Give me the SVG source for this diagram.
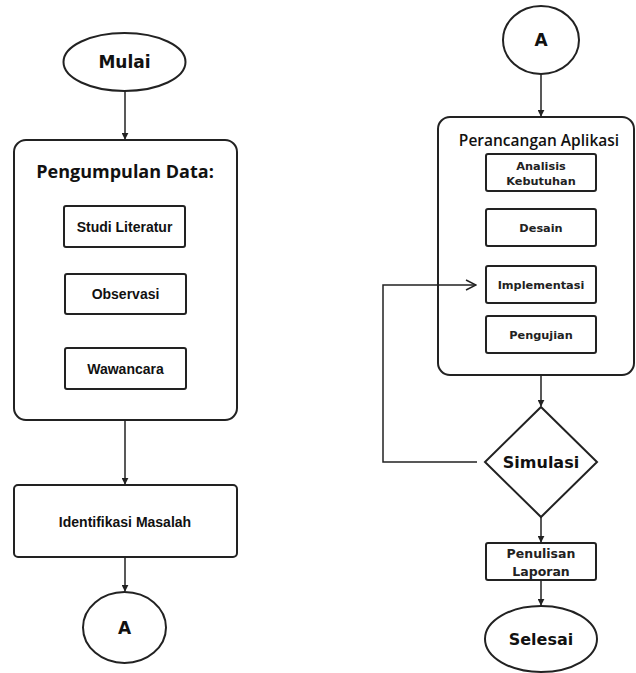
<svg xmlns="http://www.w3.org/2000/svg" width="636" height="673" viewBox="0 0 636 673">
<style>
.s{fill:#fff;stroke:#222;stroke-width:2}
.c{fill:none;stroke:#222;stroke-width:1.5}
.t{font-family:"Liberation Sans",Arial,sans-serif;font-weight:bold;text-anchor:middle;fill:#111}
.b{font-family:"DejaVu Sans",Verdana,sans-serif;font-weight:bold;text-anchor:middle;fill:#111}
.m{font-size:14px}
.h{font-family:"Open Sans","Noto Sans",sans-serif;text-anchor:middle;fill:#111}
.v{font-family:"DejaVu Sans",Verdana,sans-serif;font-size:11.3px;font-weight:bold;text-anchor:middle;fill:#222}
.p{font-size:12.5px}
</style>
<defs>
<marker id="ar" viewBox="0 0 10 10" refX="9" refY="5" markerWidth="7" markerHeight="7" orient="auto" markerUnits="userSpaceOnUse">
<path d="M0,0 L10,5 L0,10 z" fill="#222"/>
</marker>
<marker id="op" viewBox="0 0 12 12" refX="11" refY="6" markerWidth="12" markerHeight="12" orient="auto" markerUnits="userSpaceOnUse">
<path d="M1,1 L11,6 L1,11" fill="none" stroke="#222" stroke-width="1.5"/>
</marker>
</defs>
<g id="mulai">
<ellipse class="s" cx="124.5" cy="62" rx="61" ry="29"/>
<text class="b" x="124.5" y="68" font-size="17">Mulai</text>
</g>
<g id="pengumpulan">
<rect class="s" x="14" y="140" width="223" height="280" rx="12"/>
<text class="h" x="125" y="178" font-size="18" font-weight="bold">Pengumpulan Data:</text>
</g>
<g id="studi">
<rect class="s" x="64" y="206" width="121" height="41" rx="2"/>
<text class="t m" x="124.5" y="231.5">Studi Literatur</text>
</g>
<g id="observasi">
<rect class="s" x="65" y="274" width="121" height="40" rx="2"/>
<text class="t m" x="125.5" y="299">Observasi</text>
</g>
<g id="wawancara">
<rect class="s" x="65" y="348" width="121" height="41" rx="2"/>
<text class="t m" x="125.5" y="374">Wawancara</text>
</g>
<g id="identifikasi">
<rect class="s" x="14" y="485" width="223" height="72" rx="4"/>
<text class="t m" x="125" y="527">Identifikasi Masalah</text>
</g>
<g id="a1">
<ellipse class="s" cx="124.5" cy="627.5" rx="41.5" ry="35.5"/>
<text class="b" x="124.5" y="634" font-size="17">A</text>
</g>
<g id="a2">
<ellipse class="s" cx="541" cy="40" rx="38" ry="34"/>
<text class="b" x="541" y="46" font-size="17">A</text>
</g>
<g id="perancangan">
<rect class="s" x="438" y="117" width="196" height="258" rx="12"/>
<text class="h" x="539" y="146" font-size="15.5" font-weight="600">Perancangan Aplikasi</text>
</g>
<g id="analisis">
<rect class="s" x="486" y="154" width="110" height="37" rx="2"/>
<text class="v" x="541" y="170">Analisis</text>
<text class="v" x="541" y="185">Kebutuhan</text>
</g>
<g id="desain">
<rect class="s" x="486" y="209" width="110" height="37" rx="2"/>
<text class="v" x="541" y="232">Desain</text>
</g>
<g id="implementasi">
<rect class="s" x="486" y="266" width="110" height="37" rx="2"/>
<text class="v" x="541" y="289">Implementasi</text>
</g>
<g id="pengujian">
<rect class="s" x="486" y="316" width="110" height="37" rx="2"/>
<text class="v" x="541" y="339">Pengujian</text>
</g>
<g id="simulasi">
<polygon class="s" points="541,407 597,462 541,517 485,462"/>
<text class="b" x="541" y="468" font-size="16">Simulasi</text>
</g>
<g id="penulisan">
<rect class="s" x="486" y="543" width="110" height="37" rx="2"/>
<text class="v p" x="541" y="558">Penulisan</text>
<text class="v p" x="541" y="576">Laporan</text>
</g>
<g id="selesai">
<ellipse class="s" cx="541" cy="639" rx="56" ry="33"/>
<text class="b" x="541" y="645" font-size="16">Selesai</text>
</g>
<g id="connectors">
<line class="c" x1="125" y1="91" x2="125" y2="139" marker-end="url(#ar)"/>
<line class="c" x1="125" y1="420" x2="125" y2="484" marker-end="url(#ar)"/>
<line class="c" x1="125" y1="557" x2="125" y2="591" marker-end="url(#ar)"/>
<line class="c" x1="541" y1="74" x2="541" y2="116" marker-end="url(#ar)"/>
<line class="c" x1="541" y1="375" x2="541" y2="406" marker-end="url(#ar)"/>
<line class="c" x1="541" y1="517" x2="541" y2="542" marker-end="url(#ar)"/>
<line class="c" x1="541" y1="580" x2="541" y2="605" marker-end="url(#ar)"/>
<polyline class="c" points="477,462 383,462 383,285 476,285" marker-end="url(#op)"/>
</g>
</svg>
